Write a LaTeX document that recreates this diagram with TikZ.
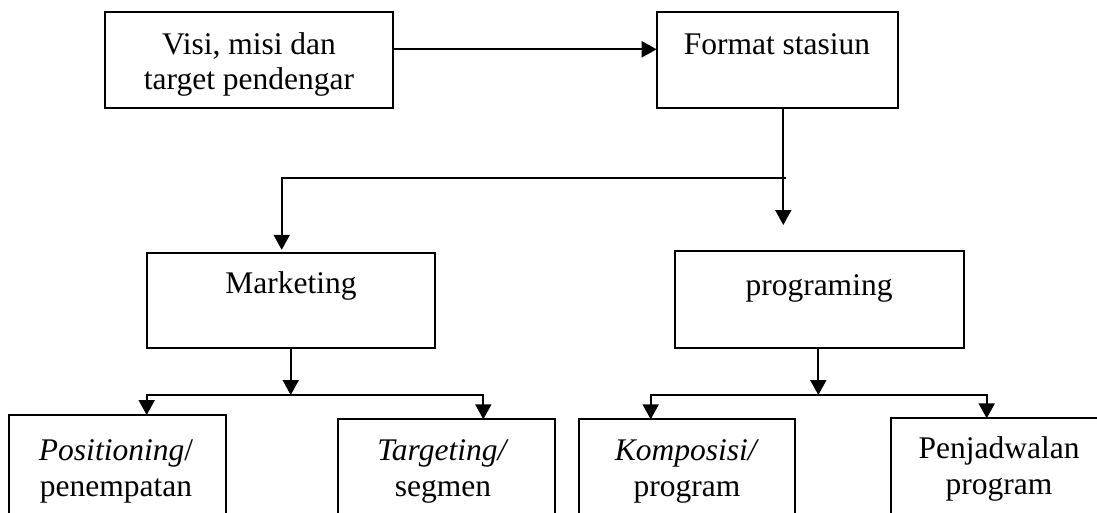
\documentclass[tikz,border=0pt]{standalone}
\usepackage{fontspec}
\setmainfont{Liberation Serif}
\usetikzlibrary{arrows.meta,calc}
\begin{document}
\begin{tikzpicture}[x=1pt,y=-1pt,
  box/.style={draw,line width=2pt,inner sep=0pt,outer sep=0pt,anchor=north west},
  lbl/.style={anchor=base,font=\fontsize{31.5}{35.6}\selectfont,inner sep=0pt},
  conn/.style={line width=2pt},
  arr/.style={conn,-{Triangle[length=15pt,width=16pt]}},
  arrtwo/.style={conn,{Triangle[length=15pt,width=16pt]}-{Triangle[length=15pt,width=16pt]}}]
\useasboundingbox (0,0) rectangle (1097,512);
\clip (0,0) rectangle (1097,512);
\fill[white] (0,0) rectangle (1097,512);
% boxes
\node[box,minimum width=288.3pt,minimum height=95.2pt] (visi) at (105,12.3) {};
\node[box,minimum width=240.8pt,minimum height=95.2pt] (format) at (656.7,12.3) {};
\node[box,minimum width=288.3pt,minimum height=95pt] (marketing) at (146.7,253.3) {};
\node[box,minimum width=289pt,minimum height=96.4pt] (programing) at (674.5,251.3) {};
\node[box,minimum width=216.7pt,minimum height=120pt] (pos) at (9.3,415) {};
\node[box,minimum width=216.7pt,minimum height=120pt] (targ) at (338.3,419.3) {};
\node[box,minimum width=216pt,minimum height=120pt] (komp) at (579,419.3) {};
\node[box,minimum width=216pt,minimum height=120pt] (jadwal) at (891,418.3) {};
% labels
\node[lbl] (visiA) at (249,54) {Visi, misi dan};
\node[lbl] (visiB) at (249,89.5) {target pendengar};
\node[lbl] (formatT) at (777,54) {Format stasiun};
\node[lbl] (marketingT) at (291,293) {Marketing};
\node[lbl] (programingT) at (819,295) {programing};
\node[lbl] (posA) at (116,460) {\textit{Positioning}/};
\node[lbl] (posB) at (116,496) {penempatan};
\node[lbl] (targA) at (443,460) {\textit{Targeting/}};
\node[lbl] (targB) at (443,496) {segmen};
\node[lbl] (kompA) at (687,460) {\textit{Komposisi/}};
\node[lbl] (kompB) at (687,496) {program};
\node[lbl] (jadwalA) at (999,458) {Penjadwalan};
\node[lbl] (jadwalB) at (999,494) {program};
% connectors
\draw[arr] ($(visi.north east)+(0,37)$) -- ($(format.north west)+(0,37)$);
\coordinate (fmtTip) at (783.3,225);
\draw[arr] (format.south -| fmtTip) -- (fmtTip);
\coordinate (jR) at (785.7,178.3);
\coordinate (jL) at (281.7,178.3);
\draw[arr] (jR) -- (jL) -- ($(marketing.north -| jL)+(0,-3.5)$);
\coordinate (mJ) at (290.7,395);
\coordinate (mL) at (146.7,395);
\coordinate (mR) at (483.3,395);
\draw[arr] (marketing.south -| mJ) -- (mJ);
\draw[arrtwo] (pos.north -| mL) -- (mL) -- (mR) -- (targ.north -| mR);
\coordinate (pJ) at (818.3,395);
\coordinate (pL) at (650.7,395);
\coordinate (pR) at (986.7,395);
\draw[arr] (programing.south -| pJ) -- (pJ);
\draw[arrtwo] (komp.north -| pL) -- (pL) -- (pR) -- (jadwal.north -| pR);
\end{tikzpicture}
\end{document}
